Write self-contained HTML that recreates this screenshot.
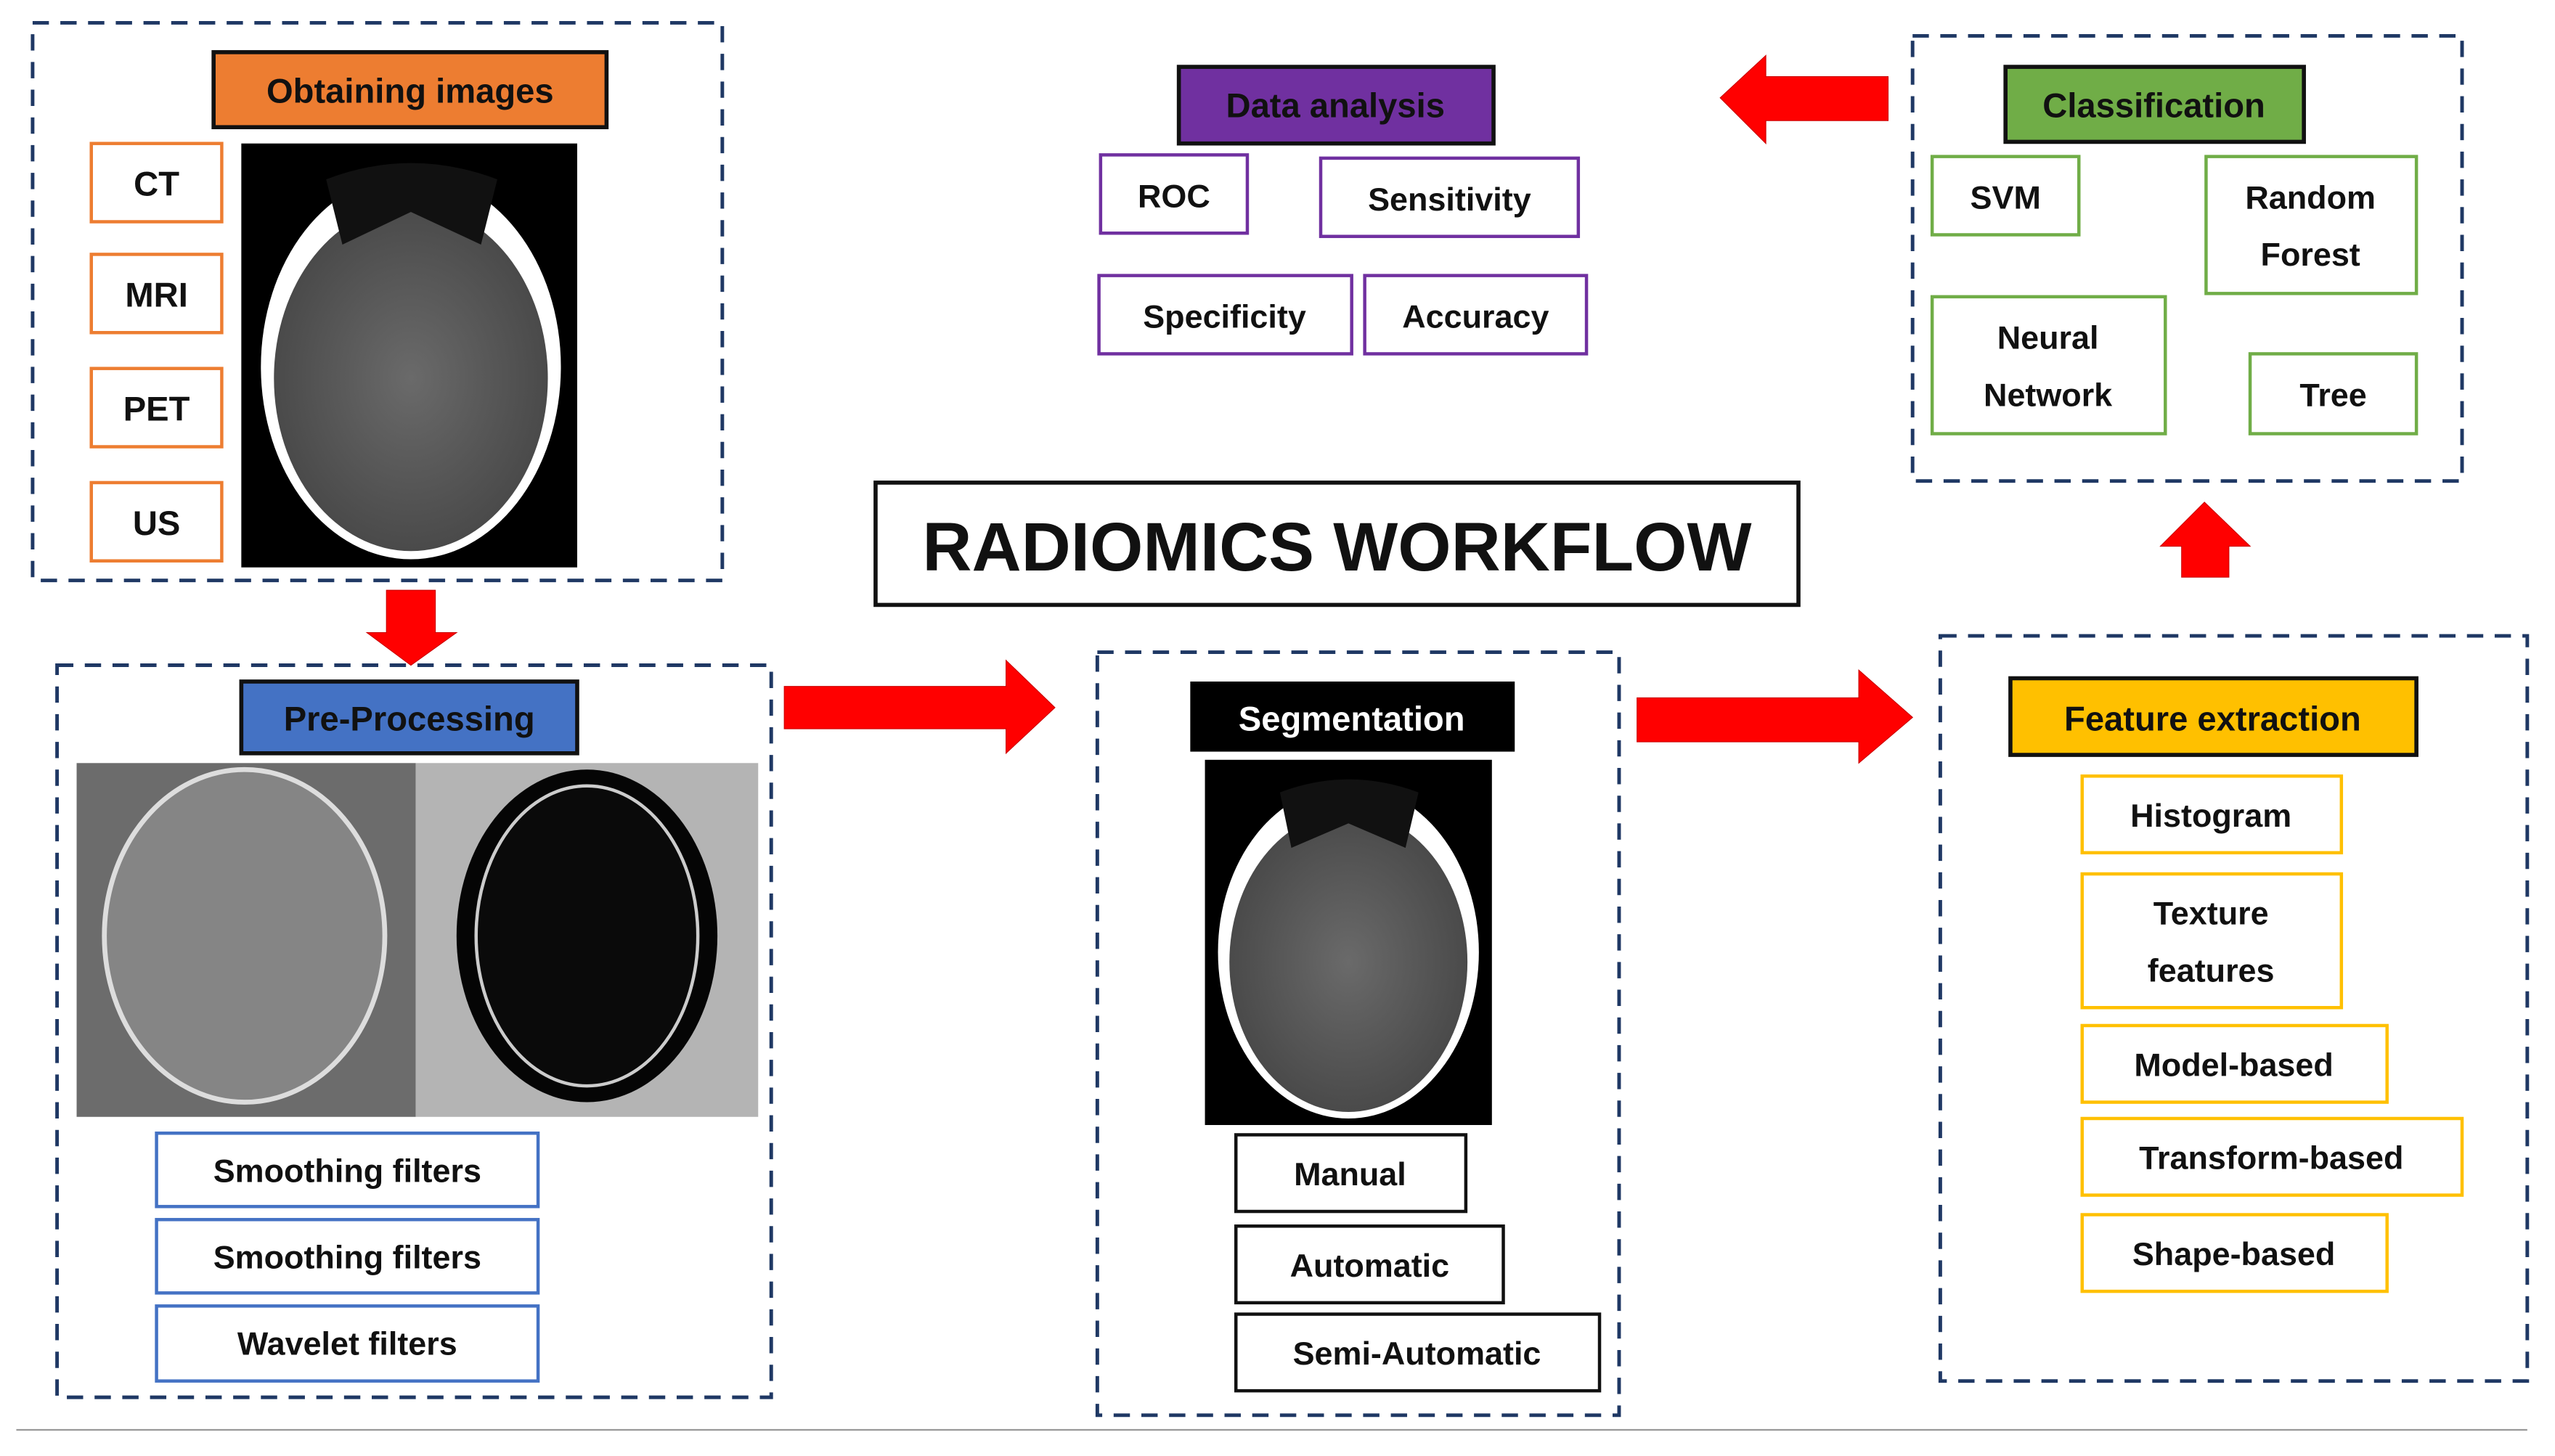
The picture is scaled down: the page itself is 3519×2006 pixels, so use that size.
<!DOCTYPE html>
<html><head><meta charset="utf-8"><style>
html,body{margin:0;padding:0;background:#fff;}
svg{display:block;}
text{font-family:"Liberation Sans",sans-serif;font-weight:bold;fill:#111;}
</style></head><body>
<svg width="3519" height="2006" viewBox="0 0 1567 893" preserveAspectRatio="none" xmlns="http://www.w3.org/2000/svg">
<defs>
<radialGradient id="brainG" cx="50%" cy="50%" r="50%"><stop offset="0" stop-color="#6a6a6a"/><stop offset="1" stop-color="#4a4a4a"/></radialGradient>
</defs>
<g fill="none" stroke="#1F3864" stroke-width="2.2" stroke-dasharray="10,7">
<rect x="20" y="14" width="423" height="342"/>
<rect x="35" y="408" width="438" height="449"/>
<rect x="673" y="400" width="320" height="468"/>
<rect x="1190" y="390" width="360" height="457"/>
<rect x="1173" y="22" width="337" height="273"/>
</g>
<line x1="10" y1="877" x2="1550" y2="877" stroke="#999" stroke-width="1"/>
<g fill="#FF0000" stroke="#c00" stroke-width="0.5">
<polygon points="237,362 267,362 267,388 280,388 252,408 225,388 237,388"/>
<polygon points="481,421 617,421 617,405 647,434 617,462 617,447 481,447"/>
<polygon points="1004,428 1140,428 1140,411 1173,440 1140,468 1140,455 1004,455"/>
<polygon points="1338,354 1367,354 1367,335 1380,335 1352,308 1325,335 1338,335"/>
<polygon points="1158,47 1083,47 1083,34 1055,60 1083,88 1083,74 1158,74"/>
</g>
<rect x="131" y="32" width="241" height="46" fill="#ED7D31" stroke="#111" stroke-width="2.5"/>
<text x="251.5" y="63" font-size="21" text-anchor="middle">Obtaining images</text>
<g fill="#fff" stroke="#ED7D31" stroke-width="2">
<rect x="56" y="88" width="80" height="48"/><rect x="56" y="156" width="80" height="48"/>
<rect x="56" y="226" width="80" height="48"/><rect x="56" y="296" width="80" height="48"/>
</g>
<g font-size="21" text-anchor="middle">
<text x="96" y="120">CT</text><text x="96" y="188">MRI</text><text x="96" y="258">PET</text><text x="96" y="328">US</text>
</g>
<rect x="148" y="88" width="206" height="260" fill="#000"/>
<ellipse cx="252" cy="225" rx="92" ry="118" fill="#fff"/>
<ellipse cx="252" cy="232" rx="84" ry="106" fill="url(#brainG)"/>
<path d="M200,110 Q252,90 305,110 L295,150 L252,130 L210,150 Z" fill="#111"/>
<rect x="148" y="418" width="206" height="44" fill="#4472C4" stroke="#111" stroke-width="2.5"/>
<text x="251" y="448" font-size="21" text-anchor="middle">Pre-Processing</text>
<rect x="47" y="468" width="208" height="217" fill="#6c6c6c"/>
<ellipse cx="150" cy="574" rx="86" ry="102" fill="#858585" stroke="#ddd" stroke-width="3"/>
<rect x="255" y="468" width="210" height="217" fill="#b4b4b4"/>
<ellipse cx="360" cy="574" rx="80" ry="102" fill="#050505"/>
<ellipse cx="360" cy="574" rx="68" ry="92" fill="#0a0a0a" stroke="#ccc" stroke-width="2"/>
<g fill="#fff" stroke="#4472C4" stroke-width="2">
<rect x="96" y="695" width="234" height="45"/><rect x="96" y="748" width="234" height="45"/><rect x="96" y="801" width="234" height="46"/>
</g>
<g font-size="20" text-anchor="middle">
<text x="213" y="725">Smoothing filters</text><text x="213" y="778">Smoothing filters</text><text x="213" y="831">Wavelet filters</text>
</g>
<rect x="730" y="418" width="199" height="43" fill="#000"/>
<text x="829" y="448" font-size="21" text-anchor="middle" style="fill:#fff">Segmentation</text>
<rect x="739" y="466" width="176" height="224" fill="#000"/>
<ellipse cx="827" cy="584" rx="80" ry="102" fill="#fff"/>
<ellipse cx="827" cy="590" rx="73" ry="92" fill="url(#brainG)"/>
<path d="M785,486 Q827,470 870,486 L862,520 L827,505 L792,520 Z" fill="#111"/>
<g fill="#fff" stroke="#111" stroke-width="2">
<rect x="758" y="696" width="141" height="47"/><rect x="758" y="752" width="164" height="47"/><rect x="758" y="806" width="223" height="47"/>
</g>
<g font-size="20" text-anchor="middle">
<text x="828" y="727">Manual</text><text x="840" y="783">Automatic</text><text x="869" y="837">Semi-Automatic</text>
</g>
<rect x="1233" y="416" width="249" height="47" fill="#FFC000" stroke="#111" stroke-width="2.5"/>
<text x="1357" y="448" font-size="21" text-anchor="middle">Feature extraction</text>
<g fill="#fff" stroke="#FFC000" stroke-width="2">
<rect x="1277" y="476" width="159" height="47"/><rect x="1277" y="536" width="159" height="82"/>
<rect x="1277" y="629" width="187" height="47"/><rect x="1277" y="686" width="233" height="47"/><rect x="1277" y="745" width="187" height="47"/>
</g>
<g font-size="20" text-anchor="middle">
<text x="1356" y="507">Histogram</text><text x="1356" y="567">Texture</text><text x="1356" y="602">features</text>
<text x="1370" y="660">Model-based</text><text x="1393" y="717">Transform-based</text><text x="1370" y="776">Shape-based</text>
</g>
<rect x="1230" y="41" width="183" height="46" fill="#70AD47" stroke="#111" stroke-width="2.5"/>
<text x="1321" y="72" font-size="21" text-anchor="middle">Classification</text>
<g fill="#fff" stroke="#70AD47" stroke-width="2">
<rect x="1185" y="96" width="90" height="48"/><rect x="1353" y="96" width="129" height="84"/>
<rect x="1185" y="182" width="143" height="84"/><rect x="1380" y="217" width="102" height="49"/>
</g>
<g font-size="20" text-anchor="middle">
<text x="1230" y="128">SVM</text><text x="1417" y="128">Random</text><text x="1417" y="163">Forest</text>
<text x="1256" y="214">Neural</text><text x="1256" y="249">Network</text><text x="1431" y="249">Tree</text>
</g>
<rect x="723" y="41" width="193" height="47" fill="#7030A0" stroke="#111" stroke-width="2.5"/>
<text x="819" y="72" font-size="21" text-anchor="middle">Data analysis</text>
<g fill="#fff" stroke="#7030A0" stroke-width="2">
<rect x="675" y="95" width="90" height="48"/><rect x="810" y="97" width="158" height="48"/>
<rect x="674" y="169" width="155" height="48"/><rect x="837" y="169" width="136" height="48"/>
</g>
<g font-size="20" text-anchor="middle">
<text x="720" y="127">ROC</text><text x="889" y="129">Sensitivity</text><text x="751" y="201">Specificity</text><text x="905" y="201">Accuracy</text>
</g>
<rect x="537" y="296" width="566" height="75" fill="#fff" stroke="#111" stroke-width="2.5"/>
<text x="820" y="350" font-size="42" text-anchor="middle">RADIOMICS WORKFLOW</text>
</svg>
</body></html>
